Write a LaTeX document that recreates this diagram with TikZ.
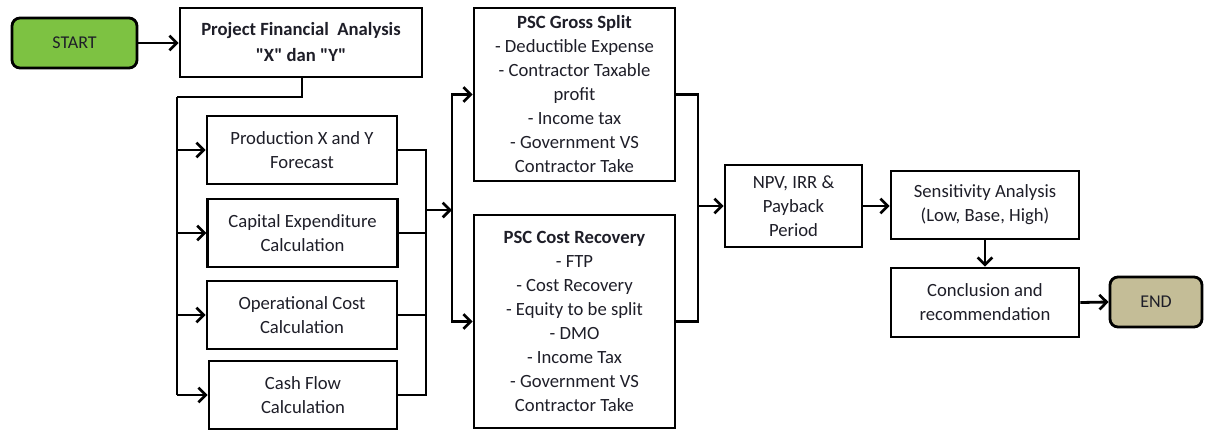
\documentclass[tikz,border=0pt]{standalone}
\usepackage{fontspec}
\setmainfont{Carlito}
\usetikzlibrary{arrows.meta}
\definecolor{startgreen}{RGB}{125,194,66}
\definecolor{endtan}{RGB}{196,189,151}
\definecolor{txt}{RGB}{30,30,40}
\begin{document}
\begin{tikzpicture}[x=0.75pt,y=-0.75pt,
  box/.style={draw, line width=2.1pt, align=center, inner sep=0pt, text=txt,
    font=\fontsize{14}{18}\selectfont},
  term/.style={box, rounded corners=6pt, font=\fontsize{13.5}{16}\selectfont},
  ln/.style={line width=2.1pt},
  arr/.style={ln, -{Straight Barb[length=5.5pt,width=11pt,line width=2pt]}}]
\useasboundingbox (0,0) rectangle (1207,430);
% nodes
\node[term, fill=startgreen, minimum width=93.75pt, minimum height=37.5pt] (start) at (74.5,43) {START};
\node[box, minimum width=181.5pt, minimum height=51.75pt, font=\fontsize{14}{19.5}\selectfont\bfseries] (pfa) at (301,42.5) {Project Financial\ \ Analysis\\\textquotedbl X\textquotedbl\ dan \textquotedbl Y\textquotedbl};
\node[box, minimum width=142.5pt, minimum height=51pt] (prod) at (302,150) {Production X and Y\\Forecast};
\node[box, minimum width=142pt, minimum height=51pt] (cap) at (302.5,233) {Capital Expenditure\\Calculation};
\node[box, minimum width=142.5pt, minimum height=51pt] (op) at (302,315) {Operational Cost\\Calculation};
\node[box, minimum width=141pt, minimum height=51pt] (cash) at (303,395) {Cash Flow\\Calculation};
\node[box, minimum width=150.75pt, minimum height=129.75pt] (gs) at (574.5,94.5) {\textbf{PSC Gross Split}\\- Deductible Expense\\- Contractor Taxable\\profit\\- Income tax\\- Government VS\\Contractor Take};
\node[box, minimum width=150.75pt, minimum height=159.75pt] (cr) at (574.5,321.5) {\textbf{PSC Cost Recovery}\\- FTP\\- Cost Recovery\\- Equity to be split\\- DMO\\- Income Tax\\- Government VS\\Contractor Take};
\node[box, minimum width=102.75pt, minimum height=61.5pt] (npv) at (793.5,206) {NPV, IRR \&\\Payback\\Period};
\node[box, minimum width=141pt, minimum height=51pt] (sens) at (985,205) {Sensitivity Analysis\\(Low, Base, High)};
\node[box, minimum width=141pt, minimum height=51.75pt] (concl) at (985,302.5) {Conclusion and\\recommendation};
\node[term, fill=endtan, minimum width=69pt, minimum height=37.5pt] (end) at (1156,302) {END};
% helper coordinates
\coordinate (bus) at (177,97);
\coordinate (m1) at (426,210);
\coordinate (s) at (452,210);
\coordinate (m2) at (698,206);
% connectors
\draw[arr] (start.east) -- (pfa.west |- start.east);
\draw[ln] (pfa.south -| 302,0) |- (bus);
\draw[ln] (bus) -- (bus |- cash.west);
\foreach \n in {prod,cap,op,cash} \draw[arr] (bus |- \n.west) -- (\n.west);
\draw[ln] (prod.east) -| (m1);
\draw[ln] (cash.east) -| (m1);
\draw[ln] (cap.east) -- (cap.east -| m1);
\draw[ln] (op.east) -- (op.east -| m1);
\draw[arr] (m1) -- (s);
\draw[arr] (s) |- (gs.west);
\draw[arr] (s) |- (cr.west);
\draw[ln] (gs.east) -| (m2);
\draw[ln] (cr.east) -| (m2);
\draw[arr] (m2) -- (npv.west);
\draw[arr] (npv.east) -- (npv.east -| sens.west);
\draw[arr] (sens.south) -- (concl.north);
\draw[arr] (concl.east) -- (end.west);
\end{tikzpicture}
\end{document}
